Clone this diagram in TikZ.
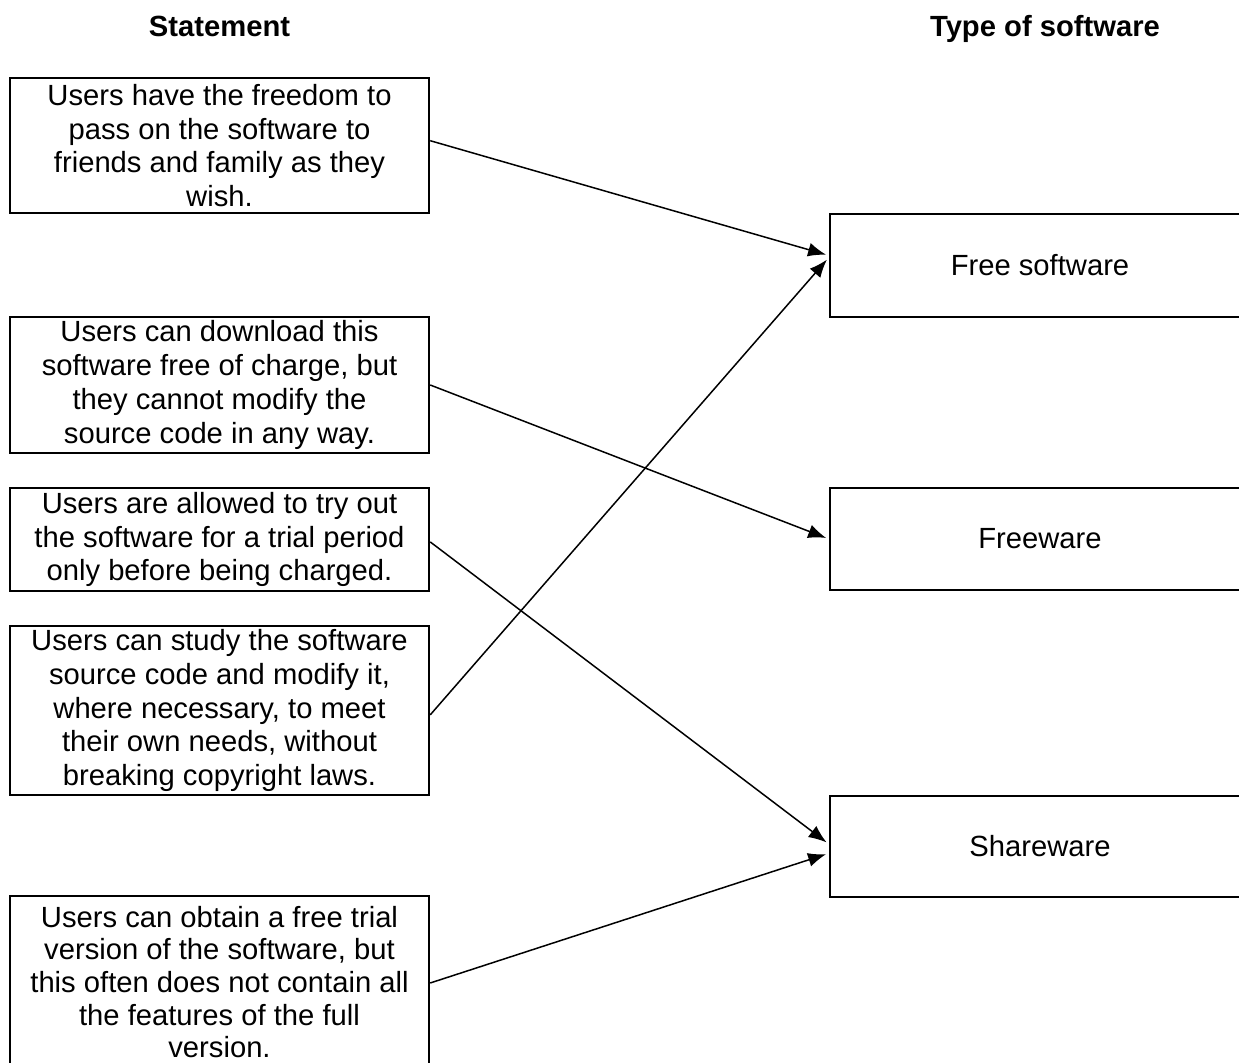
\documentclass[tikz,border=0pt]{standalone}
\usepackage{fontspec}
\setmainfont{Liberation Sans}
\usetikzlibrary{arrows.meta}
\begin{document}
\begin{tikzpicture}[x=0.5pt,y=-0.5pt,
        every node/.style={font=\fontsize{14.6}{16.9}\selectfont},
        stmt/.style={draw, line width=1.2pt, inner sep=0pt, align=center, minimum width=209.5pt},
        kind/.style={draw, line width=1.2pt, inner sep=0pt, minimum width=210pt},
        link/.style={->, >={Latex[length=9pt,width=7pt]}, line width=0.75pt, shorten >=1.4pt}]
        \useasboundingbox (0,0) rectangle (1239,1063);
        \clip (0,0) rectangle (1239,1063);
        % headings
        \node[anchor=base, font=\fontsize{14.6}{16.9}\selectfont\bfseries] (hstmt) at (219.5,37) {Statement};
        \node[anchor=base, font=\fontsize{14.6}{16.9}\selectfont\bfseries] (htype) at (1045,37) {Type of software};
        % statements
        \node[stmt, minimum height=67.5pt] (st1) at (219.5,145.5) {Users have the freedom to\\pass on the software to\\friends and family as they\\wish.};
        \node[stmt, minimum height=68pt] (st2) at (219.5,385) {Users can download this\\software free of charge, but\\they cannot modify the\\source code in any way.};
        \node[stmt, minimum height=51.5pt] (st3) at (219.5,539.5) {Users are allowed to try out\\the software for a trial period\\only before being charged.};
        \node[stmt, minimum height=84.5pt] (st4) at (219.5,710.5) {Users can study the software\\source code and modify it,\\where necessary, to meet\\their own needs, without\\breaking copyright laws.};
        \node[stmt, minimum height=86pt, font=\fontsize{14.6}{16.3}\selectfont] (st5) at (219.5,982) {Users can obtain a free trial\\version of the software, but\\this often does not contain all\\the features of the full\\version.};
        % types
        \node[kind, minimum height=51.5pt] (free) at (1040,265.5) {Free software};
        \node[kind, minimum height=51pt] (freeware) at (1040,539) {Freeware};
        \node[kind, minimum height=50.5pt] (share) at (1040,846.5) {Shareware};
        % links
        \draw[link] ([yshift=2.4pt]st1.east) -- ([yshift=5pt]free.west);
        \draw[link] (st2.east) -- (freeware.west);
        \draw[link] ([yshift=-1.2pt]st3.east) -- ([yshift=1.2pt]share.west);
        \draw[link] ([yshift=-2.2pt]st4.east) -- ([yshift=4pt]free.west);
        \draw[link] ([yshift=-0.5pt]st5.east) -- ([yshift=-3.4pt]share.west);
\end{tikzpicture}
\end{document}
